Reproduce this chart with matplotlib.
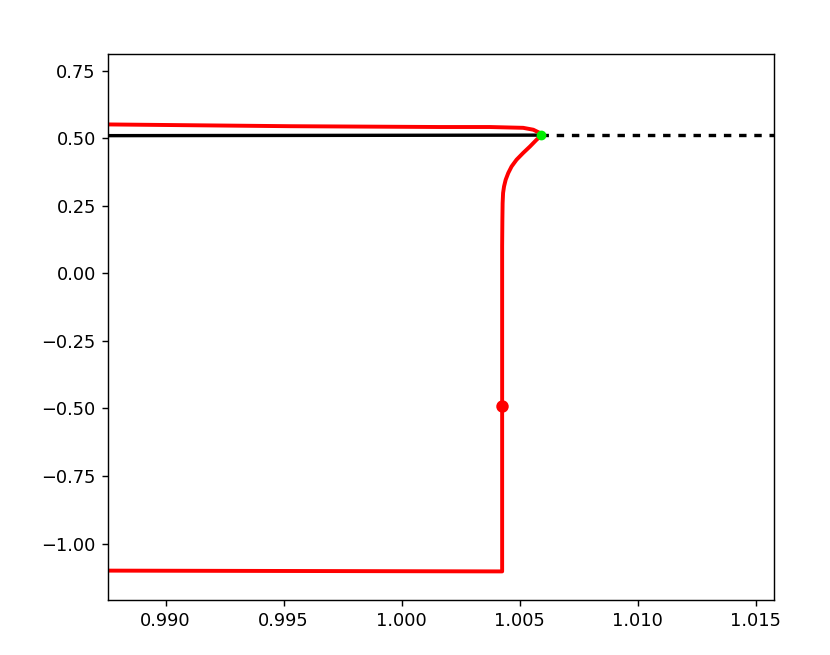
import matplotlib
matplotlib.use("Agg")
import matplotlib.pyplot as plt
import numpy as np

# black branch (stable part solid, unstable part dotted)
black_solid_x = [0.9870, 1.00590]
black_solid_y = [0.509, 0.511]
black_dot_x = [1.00590, 1.0165]
black_dot_y = [0.511, 0.511]

# red curve
red_x = [0.9870, 0.9953, 1.0016, 1.00374, 1.00515, 1.00558, 1.00586, 1.00594,
         1.00572, 1.00544, 1.00515, 1.00487, 1.00466, 1.00452, 1.00441,
         1.00434, 1.00430, 1.00428, 1.00427, 1.00426, 1.00426, 1.00426,
         0.9870]
red_y = [0.551, 0.544, 0.541, 0.541, 0.538, 0.531, 0.519, 0.511,
         0.494, 0.469, 0.445, 0.420, 0.395, 0.371, 0.346,
         0.321, 0.297, 0.259, 0.198, 0.10, -0.49, -1.103,
         -1.100]

green_pt = (1.00590, 0.512)
red_pt = (1.00426, -0.492)

dpi = 128
fig = plt.figure(figsize=(830 / dpi, 655 / dpi), dpi=dpi)
ax = fig.add_axes([0.1305, 0.0847, 0.802, 0.8324])

ax.plot(black_solid_x, black_solid_y, color="black", lw=1.9)
ax.plot(black_dot_x, black_dot_y, color="black", lw=1.9, linestyle=(0, (2.2, 2.3)))
ax.plot(red_x, red_y, color="red", lw=2.2)
ax.plot(*red_pt, "o", color="red", markersize=6)
ax.plot(*green_pt, "o", color="#00ee00", markersize=4.5)

ax.set_xlim(0.98757, 1.01578)
ax.set_ylim(-1.207, 0.810)
ax.set_xticks(np.arange(0.990, 1.0151, 0.005))
ax.set_yticks(np.arange(-1.0, 0.76, 0.25))

plt.savefig("out.png", dpi=dpi)
